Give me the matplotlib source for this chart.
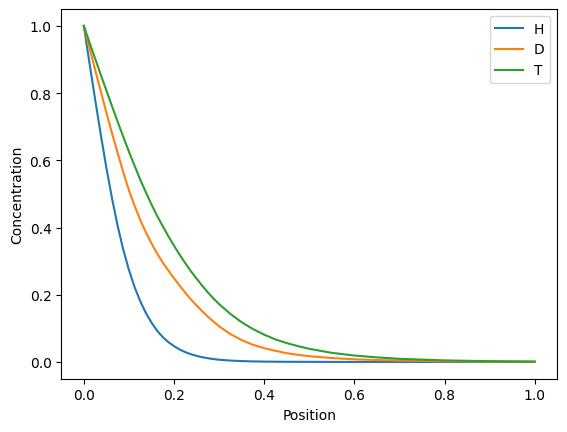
import matplotlib
matplotlib.use("Agg")
import matplotlib.pyplot as plt

# Position grid and concentration profiles
position = [0.0, 0.0125, 0.025, 0.0375, 0.05, 0.0625, 0.075, 0.0875, 0.1, 0.1125,
            0.125, 0.1375, 0.15, 0.1625, 0.175, 0.1875, 0.2, 0.2125, 0.225, 0.2375,
            0.25, 0.2625, 0.275, 0.2875, 0.3, 0.325, 0.35, 0.375, 0.4, 0.425,
            0.45, 0.475, 0.5, 0.55, 0.6, 0.65, 0.7, 0.8, 0.9, 1.0]

conc_H = [1.0, 0.890, 0.782, 0.677, 0.578, 0.487, 0.405, 0.334, 0.274, 0.223,
          0.181, 0.146, 0.117, 0.093, 0.074, 0.059, 0.047, 0.037, 0.029, 0.023,
          0.018, 0.014, 0.011, 0.0085, 0.0065, 0.004, 0.0025, 0.0015, 0.001, 0.0006,
          0.0004, 0.0003, 0.0002, 0.0001, 0.0, 0.0, 0.0, 0.0, 0.0, 0.0]
conc_D = [1.0, 0.935, 0.870, 0.806, 0.742, 0.681, 0.622, 0.565, 0.511, 0.465,
          0.423, 0.386, 0.353, 0.323, 0.296, 0.272, 0.249, 0.227, 0.206, 0.186,
          0.168, 0.151, 0.135, 0.120, 0.106, 0.083, 0.065, 0.051, 0.041, 0.033,
          0.026, 0.021, 0.017, 0.0115, 0.0078, 0.0055, 0.004, 0.002, 0.001, 0.0005]
conc_T = [1.0, 0.951, 0.903, 0.855, 0.808, 0.761, 0.715, 0.670, 0.626, 0.584,
          0.543, 0.505, 0.469, 0.435, 0.404, 0.374, 0.346, 0.319, 0.294, 0.270,
          0.248, 0.227, 0.207, 0.189, 0.172, 0.143, 0.118, 0.098, 0.081, 0.067,
          0.056, 0.047, 0.039, 0.027, 0.019, 0.0135, 0.0092, 0.0045, 0.0022, 0.001]

labels = ["H", "D", "T"]

fig, ax = plt.subplots(figsize=(6.4, 4.8))
for y, lab in zip([conc_H, conc_D, conc_T], labels):
    ax.plot(position, y, label=lab)

ax.set_xlabel("Position")
ax.set_ylabel("Concentration")
ax.legend()

fig.savefig("out.png", dpi=100, bbox_inches="tight")
